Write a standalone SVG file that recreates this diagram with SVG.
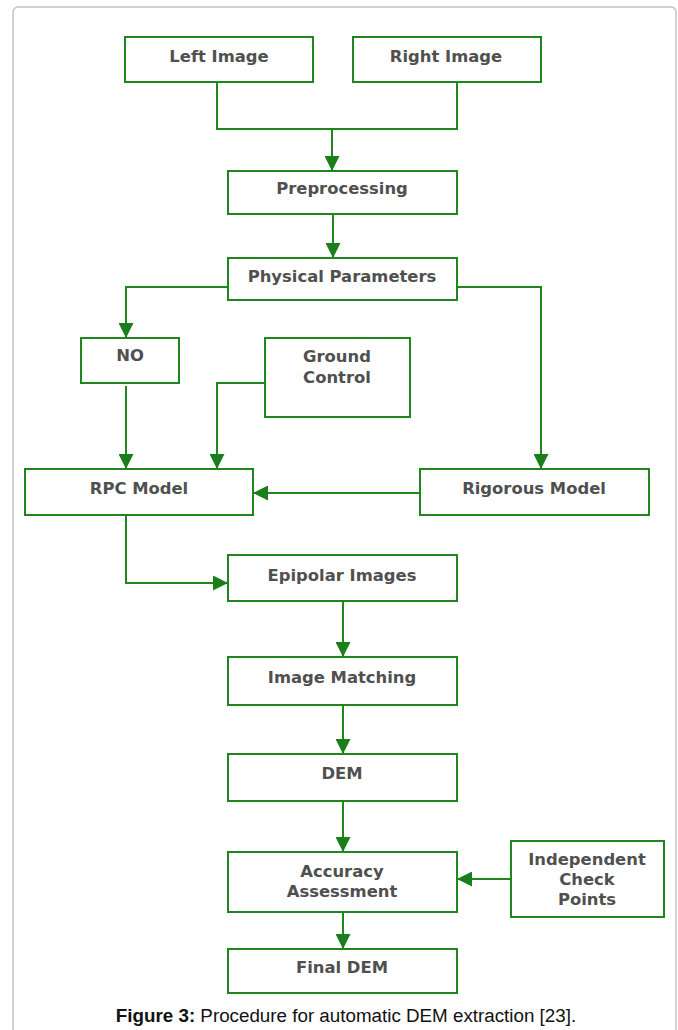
<svg xmlns="http://www.w3.org/2000/svg" width="678" height="1030" viewBox="0 0 678 1030">
<style>
.box{fill:#ffffff;stroke:#1f861f;stroke-width:2}
.lbl{font-family:"DejaVu Sans","Liberation Sans",sans-serif;font-weight:bold;font-size:16.4px;fill:#505050;text-anchor:middle}
.con{fill:none;stroke:#1f861f;stroke-width:2}
.cap{font-family:"Liberation Sans",Arial,sans-serif;font-size:18.8px;fill:#111}
</style>
<defs>
<marker id="arr" markerUnits="userSpaceOnUse" markerWidth="15" markerHeight="15" viewBox="0 0 14 14" refX="14" refY="7" orient="auto">
<path d="M0,0 L14,7 L0,14 Z" fill="#1a7f1a"/>
</marker>
</defs>
<rect x="13" y="7" width="663" height="1040" rx="5" fill="#ffffff" stroke="#c4c4c4" stroke-width="1.5"/>
<g id="connectors">
<path class="con" d="M217,82 V129 H457 V82"/>
<path class="con" d="M332,129 V171" marker-end="url(#arr)"/>
<path class="con" d="M333,214 V258" marker-end="url(#arr)"/>
<path class="con" d="M228,287 H126 V338" marker-end="url(#arr)"/>
<path class="con" d="M457,287 H541 V469" marker-end="url(#arr)"/>
<path class="con" d="M126,386 V469" marker-end="url(#arr)"/>
<path class="con" d="M265,383 H217 V469" marker-end="url(#arr)"/>
<path class="con" d="M420,493 H253" marker-end="url(#arr)"/>
<path class="con" d="M126,515 V583 H228" marker-end="url(#arr)"/>
<path class="con" d="M343,601 V657" marker-end="url(#arr)"/>
<path class="con" d="M343,705 V754" marker-end="url(#arr)"/>
<path class="con" d="M343,801 V852" marker-end="url(#arr)"/>
<path class="con" d="M511,879 H457" marker-end="url(#arr)"/>
<path class="con" d="M343,912 V949" marker-end="url(#arr)"/>
</g>
<g id="left-image"><rect class="box" x="125" y="37" width="188" height="45"/><text class="lbl" x="219" y="62">Left Image</text></g>
<g id="right-image"><rect class="box" x="353" y="37" width="188" height="45"/><text class="lbl" x="446" y="62">Right Image</text></g>
<g id="preprocessing"><rect class="box" x="228" y="171" width="229" height="43"/><text class="lbl" x="342" y="194">Preprocessing</text></g>
<g id="physical-parameters"><rect class="box" x="228" y="258" width="229" height="42"/><text class="lbl" x="342" y="282">Physical Parameters</text></g>
<g id="no"><rect class="box" x="81" y="338" width="98" height="45"/><text class="lbl" x="130" y="361">NO</text></g>
<g id="ground-control"><rect class="box" x="265" y="338" width="145" height="79"/><text class="lbl" x="337" y="362">Ground</text><text class="lbl" x="337" y="383">Control</text></g>
<g id="rpc-model"><rect class="box" x="25" y="469" width="228" height="46"/><text class="lbl" x="139" y="494">RPC Model</text></g>
<g id="rigorous-model"><rect class="box" x="420" y="469" width="229" height="46"/><text class="lbl" x="534" y="494">Rigorous Model</text></g>
<g id="epipolar-images"><rect class="box" x="228" y="555" width="229" height="46"/><text class="lbl" x="342" y="581">Epipolar Images</text></g>
<g id="image-matching"><rect class="box" x="228" y="657" width="229" height="48"/><text class="lbl" x="342" y="683">Image Matching</text></g>
<g id="dem"><rect class="box" x="228" y="754" width="229" height="47"/><text class="lbl" x="342" y="779">DEM</text></g>
<g id="accuracy-assessment"><rect class="box" x="228" y="852" width="229" height="60"/><text class="lbl" x="342" y="877">Accuracy</text><text class="lbl" x="342" y="897">Assessment</text></g>
<g id="independent-check-points"><rect class="box" x="511" y="841" width="153" height="76"/><text class="lbl" x="587" y="865">Independent</text><text class="lbl" x="587" y="885">Check</text><text class="lbl" x="587" y="905">Points</text></g>
<g id="final-dem"><rect class="box" x="228" y="949" width="229" height="44"/><text class="lbl" x="342" y="973">Final DEM</text></g>
<text class="cap" x="346" y="1022" text-anchor="middle"><tspan font-weight="bold">Figure 3:</tspan> Procedure for automatic DEM extraction [23].</text>
</svg>
